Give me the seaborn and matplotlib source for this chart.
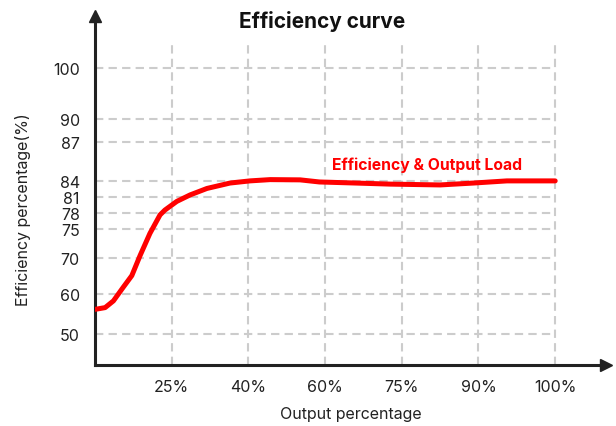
import numpy as np
import pandas as pd
import seaborn as sns
import matplotlib.pyplot as plt

# data
output_pct = [0, 3.3, 6.0, 9.2, 12.0, 14.7, 17.9, 21.2, 22.8, 26.0, 28.6, 31.9, 36.4,
              40.4, 45.7, 53.5, 58.5, 66, 72.8, 82.5, 89, 93.7, 100]
efficiency = [56.15, 56.6, 58.3, 61.9, 65.1, 70.4, 74.3, 77.7, 78.6, 80.2, 81.4, 82.6, 83.6,
              84.0, 84.1, 84.08, 83.8, 83.6, 83.4, 83.25, 83.6, 84.0, 84.0]
x_ticks = [25, 40, 60, 75, 90, 100]
x_tick_labels = ['25%', '40%', '60%', '75%', '90%', '100%']
y_ticks = [50, 60, 70, 75, 78, 81, 84, 87, 90, 100]

df = pd.DataFrame({'output': output_pct, 'efficiency': efficiency})

# uneven axis scales (evenly spaced x categories, hand-spaced y ticks)
x_vals = [0, 25, 40, 60, 75, 90, 100, 120]
x_pos = [0, 1, 2, 3, 4, 5, 6, 8]
y_vals = [40, 50, 60, 70, 75, 78, 81, 84, 87, 90, 100, 110]
y_pos = [-8, 31, 70, 106, 134, 150, 166, 182, 220, 243, 294, 345]


def xf(v):
    return np.interp(v, x_vals, x_pos)


def xi(p):
    return np.interp(p, x_pos, x_vals)


def yf(v):
    return np.interp(v, y_vals, y_pos)


def yi(p):
    return np.interp(p, y_pos, y_vals)


sns.set_style('white')
plt.rcParams['font.family'] = ['Inter', 'DejaVu Sans']

fig = plt.figure(figsize=(6.16, 4.27), dpi=100)
ax = fig.add_axes([95 / 616, 1 - 366 / 427, 511 / 616, 349 / 427])
ax.set_xscale('function', functions=(xf, xi))
ax.set_yscale('function', functions=(yf, yi))
ax.set_xlim(0, xi(511 / 76.7))
ax.set_ylim(yi(0), yi(349))

grid_kw = dict(color='#cccccc', lw=1.5, ls=(0, (4, 2.5)), zorder=1)
ax.hlines(y_ticks, 0, 100, **grid_kw)
ax.vlines(x_ticks, yi(0), yi(320), **grid_kw)

sns.lineplot(data=df, x='output', y='efficiency', color='#ff0000', lw=3.6,
             ax=ax, zorder=3, solid_capstyle='round', solid_joinstyle='round')
ax.text(61.4, 85.3, 'Efficiency & Output Load', color='#ff0000',
        fontsize=11.3, fontweight='bold', ha='left', va='center')

ax.set_xticks(x_ticks)
ax.set_xticklabels(x_tick_labels)
ax.set_yticks(y_ticks)
ax.set_yticklabels([str(t) for t in y_ticks])
ax.minorticks_off()
ax.tick_params(axis='both', length=0, labelsize=11.5, colors='#222222')
ax.tick_params(axis='y', pad=11)
ax.tick_params(axis='x', pad=10)

sns.despine(ax=ax)
for side in ['left', 'bottom']:
    ax.spines[side].set_linewidth(2.2)
    ax.spines[side].set_color('#222222')

# arrow heads at the axis ends
ax.plot(0, 1, marker='^', ms=9, color='#222222', transform=ax.transAxes, clip_on=False)
ax.plot(1, 0, marker='>', ms=9, color='#222222', transform=ax.transAxes, clip_on=False)

ax.set_xlabel('Output percentage', fontsize=11.5, color='#222222')
ax.set_ylabel('Efficiency percentage(%)', fontsize=11.5, color='#222222')
ax.xaxis.set_label_coords(0.5, -0.117)
ax.yaxis.set_label_coords(-0.126, 0.447)
fig.text(322 / 616, 1 - 21 / 427, 'Efficiency curve', fontsize=15, fontweight='bold',
         ha='center', va='center', color='#111111')

fig.savefig('out.png', dpi=100)
